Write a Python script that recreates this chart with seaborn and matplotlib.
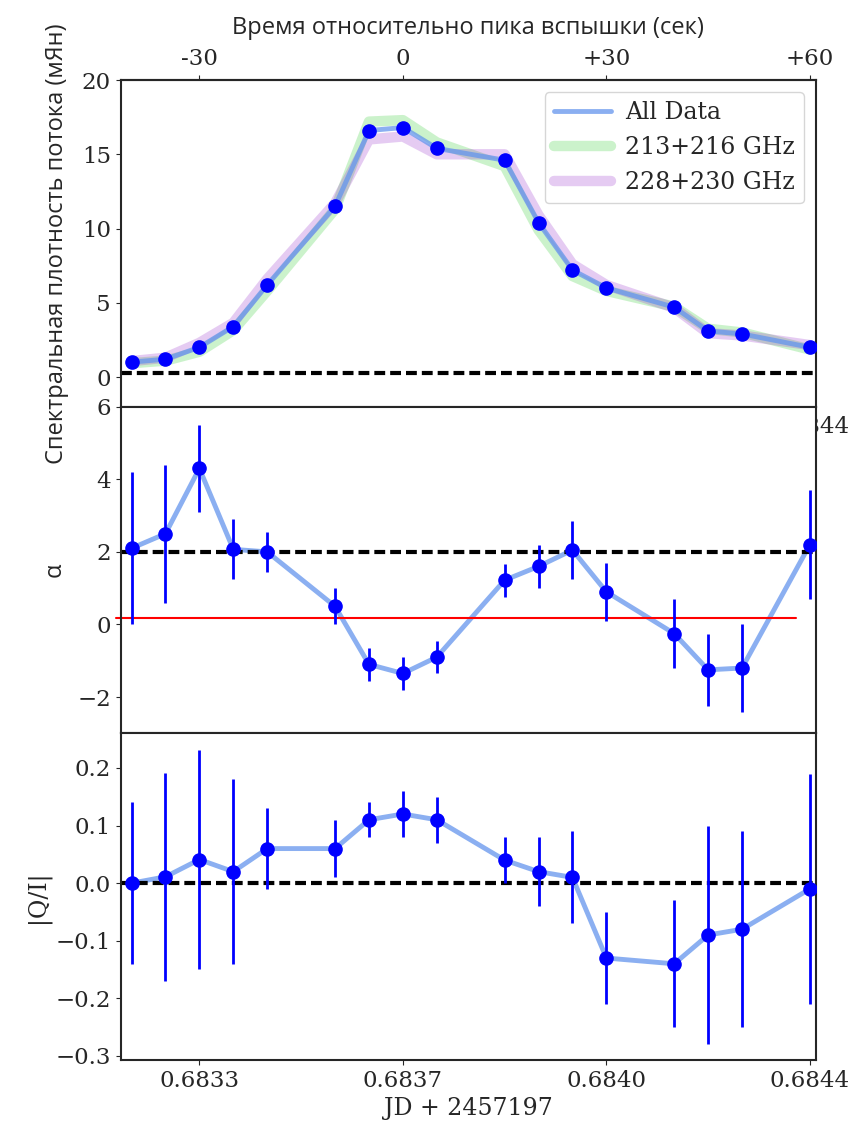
import numpy as np
import pandas as pd
import matplotlib
matplotlib.use("Agg")
import matplotlib.pyplot as plt
import seaborn as sns

# time relative to flare peak (sec)
t = [-40, -35, -30, -25, -20, -10, -5, 0, 5, 15, 20, 25, 30, 40, 45, 50, 60]
flux_all = [1.0, 1.2, 2.0, 3.4, 6.2, 11.5, 16.6, 16.8, 15.4, 14.6, 10.4, 7.2, 6.0, 4.7, 3.1, 2.9, 2.0]
flux_213 = [0.93, 1.1, 1.7, 3.15, 5.8, 11.3, 17.2, 17.3, 15.8, 14.2, 9.9, 6.8, 5.8, 4.74, 3.25, 3.0, 1.85]
flux_228 = [1.07, 1.3, 2.3, 3.65, 6.6, 11.7, 16.0, 16.2, 15.0, 15.0, 10.9, 7.6, 6.2, 4.66, 2.95, 2.8, 2.15]

alpha = [2.1, 2.5, 4.3, 2.07, 2.0, 0.5, -1.1, -1.35, -0.9, 1.22, 1.6, 2.05, 0.9, -0.25, -1.25, -1.2, 2.2]
alpha_err = [2.1, 1.9, 1.2, 0.83, 0.55, 0.5, 0.45, 0.45, 0.45, 0.45, 0.6, 0.8, 0.8, 0.95, 1.0, 1.2, 1.5]

qi = [0.0, 0.011, 0.041, 0.02, 0.06, 0.06, 0.11, 0.12, 0.11, 0.04, 0.02, 0.01, -0.13, -0.14, -0.09, -0.08, -0.01]
qi_err = [0.14, 0.18, 0.19, 0.16, 0.07, 0.05, 0.03, 0.04, 0.04, 0.04, 0.06, 0.08, 0.08, 0.11, 0.19, 0.17, 0.20]

tick_pos = [-30, 0, 30, 60]
top_labels = ["-30", "0", "+30", "+60"]
jd_labels = ["0.6833", "0.6837", "0.6840", "0.6844"]

df = pd.DataFrame({"t": t, "all": flux_all, "f213": flux_213, "f228": flux_228,
                   "alpha": alpha, "qi": qi})

sns.set_style("ticks")
plt.rcParams["font.family"] = ["DejaVu Serif"]
plt.rcParams["font.size"] = 17
plt.rcParams["xtick.labelsize"] = 16.5
plt.rcParams["ytick.labelsize"] = 16.5
plt.rcParams["axes.linewidth"] = 1.5

fig, (ax1, ax2, ax3) = plt.subplots(3, 1, figsize=(8.64, 11.29), dpi=100)
fig.subplots_adjust(left=0.1397, right=0.9444, top=0.9291, bottom=0.0611, hspace=0)

xlim = (-41.6, 60.9)
line_kw = dict(color="cornflowerblue", alpha=0.75, linewidth=3.5)
dash_kw = dict(color="black", linewidth=3, dashes=(2.6, 1.2))

# --- flux panel
sns.lineplot(data=df, x="t", y="f213", ax=ax1, color="limegreen", alpha=0.25,
             linewidth=7.5, label="213+216 GHz", zorder=1)
sns.lineplot(data=df, x="t", y="f228", ax=ax1, color="darkorchid", alpha=0.25,
             linewidth=7.5, label="228+230 GHz", zorder=1)
sns.lineplot(data=df, x="t", y="all", ax=ax1, label="All Data", zorder=2, **line_kw)
ax1.plot(t, flux_all, "o", color="blue", markersize=9.5, zorder=3)
ax1.axhline(0.3, **dash_kw)
ax1.set_ylim(-2, 20)
ax1.set_yticks([0, 5, 10, 15, 20])
ax1.set_xlim(xlim)
ax1.set_xticks(tick_pos, jd_labels)
ax1.set_xlabel("")
ax1.set_ylabel("Спектральная плотность потока (мЯн)", family="Open Sans",
               fontsize=17, labelpad=9)
h, l = ax1.get_legend_handles_labels()
ax1.legend([h[2], h[0], h[1]], [l[2], l[0], l[1]], loc="upper right", fontsize=17,
           handlelength=2.4, handletextpad=0.6, borderpad=0.4, labelspacing=0.5)

sec = ax1.secondary_xaxis("top")
sec.set_xticks(tick_pos, top_labels)
sec.set_xlabel("Время относительно пика вспышки (сек)", family="Open Sans",
               fontsize=17, labelpad=10)

# --- spectral index panel
ax2.errorbar(t, alpha, yerr=alpha_err, fmt="none", ecolor="blue", elinewidth=2, zorder=3)
sns.lineplot(data=df, x="t", y="alpha", ax=ax2, zorder=2, **line_kw)
ax2.plot(t, alpha, "o", color="blue", markersize=9.5, zorder=4)
ax2.axhline(2, **dash_kw)
ax2.plot([-42.3, 58], [0.17, 0.17], color="red", linewidth=1.5, clip_on=False)
ax2.set_ylim(-3, 6)
ax2.set_yticks([-2, 0, 2, 4, 6])
ax2.set_xlim(xlim)
ax2.set_xticks(tick_pos)
ax2.tick_params(labelbottom=False)
ax2.set_xlabel("")
ax2.set_ylabel("α", family="Open Sans", fontsize=17, labelpad=7.5)

# --- Q/I panel
ax3.errorbar(t, qi, yerr=qi_err, fmt="none", ecolor="blue", elinewidth=2, zorder=3)
sns.lineplot(data=df, x="t", y="qi", ax=ax3, zorder=2, **line_kw)
ax3.plot(t, qi, "o", color="blue", markersize=9.5, zorder=4)
ax3.axhline(0, **dash_kw)
ax3.set_ylim(-0.307, 0.26)
ax3.set_yticks([-0.3, -0.2, -0.1, 0.0, 0.1, 0.2])
ax3.set_xlim(xlim)
ax3.set_xticks(tick_pos, jd_labels)
ax3.set_xlabel("JD + 2457197", fontsize=17)
ax3.set_ylabel("|Q/I|", fontsize=17)

fig.savefig("out.png", dpi=100)
